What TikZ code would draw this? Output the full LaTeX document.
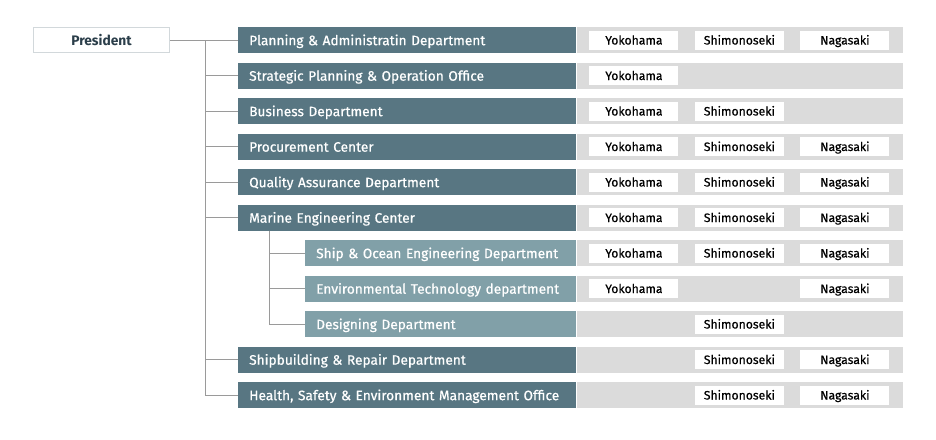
\documentclass[tikz,border=0pt]{standalone}
\usepackage{fontspec}
\setmainfont{Fira Sans}
\newfontfamily\labelfont{Fira Sans}[FakeBold=0.6]
\usetikzlibrary{positioning}
\definecolor{deptdark}{HTML}{587682}
\definecolor{deptlight}{HTML}{81A0A8}
\definecolor{bandgray}{HTML}{DBDBDB}
\definecolor{presline}{HTML}{D2D8DB}
\definecolor{presink}{HTML}{2B3E4A}
\definecolor{treeline}{HTML}{9A9A9A}
\newcommand{\cityname}[1]{\ifcase#1\or Yokohama\or Shimonoseki\or Nagasaki\fi}

\begin{document}
\begin{tikzpicture}[x=1pt,y=-1pt,
	dept/.style={fill=deptdark,text=white,anchor=west,minimum height=26pt,
		text width=316pt,inner xsep=11pt,inner ysep=0pt,align=left,text height=10.4pt,text depth=0pt,
		font=\labelfont\fontsize{13.7}{15}\selectfont},
	subdept/.style={dept,fill=deptlight,text width=249pt},
	band/.style={fill=bandgray,minimum width=326pt,minimum height=26pt,anchor=west,inner sep=0pt},
	city/.style={fill=white,minimum width=89pt,minimum height=19pt,inner sep=0pt,text height=9pt,text depth=0pt,
		font=\labelfont\fontsize{12.2}{14}\selectfont},
	tree/.style={draw=treeline,line width=0.9pt}]
					\useasboundingbox (0,0) rectangle (936,439);
					% president
					\node[draw=presline,line width=1.5pt,fill=white,minimum width=136pt,minimum height=25pt,
						text height=10.4pt,text depth=0pt,text=presink,
						font=\fontsize{13.8}{15}\selectfont\bfseries] (pres) at (101.5,40) {President};
					% departments
					\node[dept] (d1) at (238,40) {Planning \& Administratin Department};
					\node[dept] (d2) at (238,75.5) {Strategic Planning \& Operation Office};
					\node[dept] (d3) at (238,111) {Business Department};
					\node[dept] (d4) at (238,146.5) {Procurement Center};
					\node[dept] (d5) at (238,182) {Quality Assurance Department};
					\node[dept] (d6) at (238,217.5) {Marine Engineering Center};
					\node[subdept] (d7) at (305,253) {Ship \& Ocean Engineering Department};
					\node[subdept] (d8) at (305,288.5) {Environmental Technology department};
					\node[subdept] (d9) at (305,324) {Designing Department};
					\node[dept] (d10) at (238,359.5) {Shipbuilding \& Repair Department};
					\node[dept] (d11) at (238,395) {Health, Safety \& Environment Management Office};
					% sites
					\foreach \r/\cs in {1/{1,2,3},2/{1},3/{1,2},4/{1,2,3},5/{1,2,3},6/{1,2,3},
						7/{1,2,3},8/{1,3},9/{2},10/{2,3},11/{2,3}} {
						\node[band] (b\r) at (d\r.east) {};
						\foreach \c in \cs
							\path (b\r.west) ++({105.5*\c-48},0) node[city] (c\r-\c) {\cityname{\c}};
					}
					% tree
					\coordinate (trunk) at (205,40);
					\draw[tree] (pres.east) -- (d1.west);
					\draw[tree] (trunk) |- (d11.west);
					\foreach \r in {2,3,4,5,6,10}
						\draw[tree] (trunk |- d\r.west) -- (d\r.west);
					\coordinate (branch) at (269,230.5);
					\draw[tree] (branch) |- (d9.west);
					\draw[tree] (branch |- d7.west) -- (d7.west);
					\draw[tree] (branch |- d8.west) -- (d8.west);
\end{tikzpicture}
\end{document}
